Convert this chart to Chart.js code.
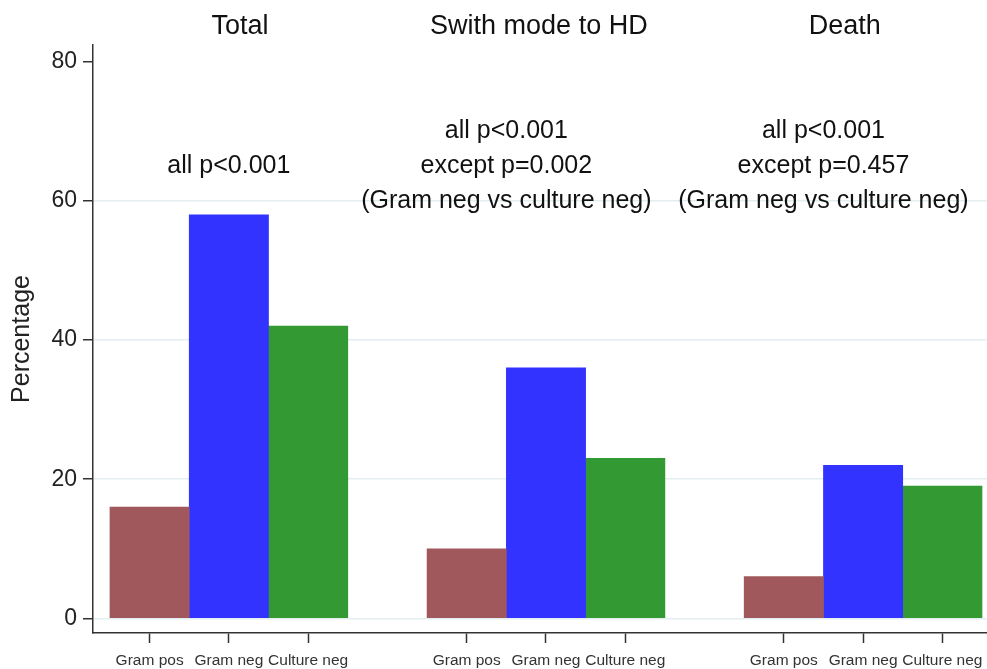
<!DOCTYPE html>
<html>
<head>
<meta charset="utf-8">
<script src="https://cdn.jsdelivr.net/npm/chart.js@4/dist/chart.umd.min.js"></script>
<style>
html,body{margin:0;padding:0;background:#ffffff;}
#wrap{width:987px;height:669px;}
</style>
</head>
<body>
<div id="wrap"><canvas id="c" width="987" height="669"></canvas></div>
<script>
// ---- data ----
const groups = ['Total', 'Swith mode to HD', 'Death'];
const seriesNames = ['Gram pos', 'Gram neg', 'Culture neg'];
const gramPos = [16, 10, 6];
const gramNeg = [58, 36, 22];
const cultureNeg = [42, 23, 19];
const yTicks = [0, 20, 40, 60, 80];
const pNotes = [
  ['all p<0.001'],
  ['all p<0.001', 'except p=0.002', '(Gram neg vs culture neg)'],
  ['all p<0.001', 'except p=0.457', '(Gram neg vs culture neg)']
];

// ---- build ----
const SLOTS = seriesNames.length + 1; // three bars + one empty slot per group
const seriesValues = [gramPos, gramNeg, cultureNeg];
const seriesColors = ['#a0585c', '#3333ff', '#339933'];
const FONT = '"Liberation Sans", Arial, sans-serif';

const datasets = seriesValues.map((vals, s) => ({
  label: seriesNames[s],
  data: vals.map((v, g) => ({ x: g * SLOTS + s, y: v })),
  backgroundColor: seriesColors[s],
  borderWidth: 0,
  grouped: false,
  barPercentage: 1,
  categoryPercentage: 1
}));
const xTickValues = [];
groups.forEach((g, gi) => seriesNames.forEach((n, s) => xTickValues.push(gi * SLOTS + s)));

const panelText = {
  id: 'panelText',
  afterDraw(chart, args, opts) {
    const { ctx, chartArea } = chart;
    const x = chart.scales.x, y = chart.scales.y;
    ctx.save();
    ctx.fillStyle = '#111111';
    ctx.textAlign = 'center';
    ctx.textBaseline = 'middle';
    ctx.font = '27px ' + FONT;
    groups.forEach((g, gi) => {
      ctx.fillText(g, x.getPixelForValue(gi * SLOTS + 1 + opts.titleShift[gi]), chartArea.top - 18);
    });
    ctx.font = '25px ' + FONT;
    pNotes.forEach((lines, gi) => {
      const cx = x.getPixelForValue(gi * SLOTS + opts.noteAnchor[gi]);
      const cy = y.getPixelForValue(opts.noteY);
      lines.forEach((t, li) => {
        ctx.fillText(t, cx, cy + (li - (lines.length - 1) / 2) * opts.lineGap);
      });
    });
    ctx.restore();
  }
};

new Chart(document.getElementById('c'), {
  type: 'bar',
  data: { datasets },
  plugins: [panelText],
  options: {
    responsive: false,
    animation: false,
    devicePixelRatio: 1,
    layout: { padding: { top: 45, left: 0, right: 0, bottom: 0 } },
    plugins: {
      legend: { display: false },
      tooltip: { enabled: false },
      panelText: {
        titleShift: [0.14, -0.09, -0.23],
        noteAnchor: [1, 0.5, 0.5],
        noteY: 65,
        lineGap: 35
      }
    },
    scales: {
      x: {
        type: 'linear',
        min: -0.714,
        max: 10.563,
        offset: false,
        afterBuildTicks: (scale) => { scale.ticks = xTickValues.map(v => ({ value: v })); },
        afterFit: (scale) => { scale.height = 36; scale.paddingLeft = 0; scale.paddingRight = 0; },
        ticks: {
          autoSkip: false,
          maxRotation: 0,
          minRotation: 0,
          padding: 8,
          color: '#333333',
          font: { family: FONT, size: 15.5 },
          callback: (v) => seriesNames[Math.round(v) % SLOTS]
        },
        grid: {
          display: true,
          offset: false,
          drawOnChartArea: false,
          drawTicks: true,
          tickLength: 10,
          tickColor: '#333333',
          tickWidth: 1.5
        },
        border: { display: true, color: '#333333', width: 1.5 }
      },
      y: {
        type: 'linear',
        min: -2.1,
        max: 82.4,
        afterBuildTicks: (scale) => { scale.ticks = yTicks.map(v => ({ value: v })); },
        afterFit: (scale) => { scale.width = 93; },
        ticks: {
          padding: 6,
          color: '#222222',
          font: { family: FONT, size: 23 }
        },
        grid: {
          display: true,
          offset: false,
          drawOnChartArea: true,
          drawTicks: true,
          tickLength: 10,
          tickColor: '#333333',
          tickWidth: 1.5,
          lineWidth: 1.5,
          color: (ctx) => (ctx.tick && ctx.tick.value === 80) ? 'rgba(0,0,0,0)' : '#e4edf0'
        },
        border: { display: true, color: '#333333', width: 1.5 },
        title: {
          display: true,
          text: 'Percentage',
          color: '#222222',
          font: { family: FONT, size: 25 },
          padding: { top: 7, bottom: 0 }
        }
      }
    }
  }
});
</script>
</body>
</html>
